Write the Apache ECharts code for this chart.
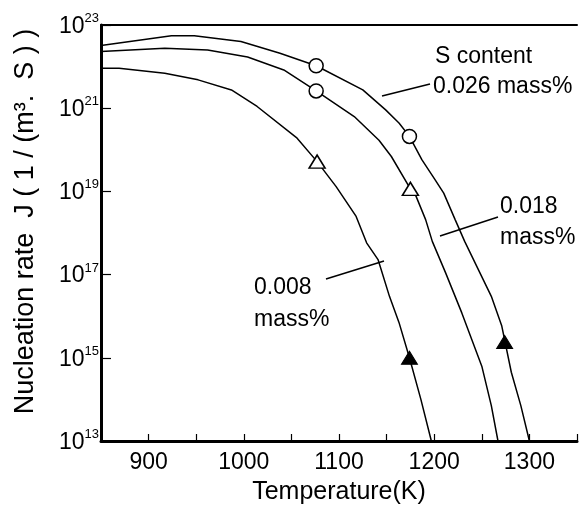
<!DOCTYPE html>
<html>
<head>
<meta charset="utf-8">
<script src="https://cdn.jsdelivr.net/npm/echarts@6/dist/echarts.min.js"></script>
<style>
  html, body { margin: 0; padding: 0; background: #fff; }
  #main { width: 580px; height: 510px; }
</style>
</head>
<body>
<div id="main"></div>
<script>
// 曲线数据：温度(K) 和 形核率 J
var t026 = [850, 924, 948, 997, 1038, 1076, 1125, 1149, 1163, 1174, 1187, 1201, 1210, 1222, 1232, 1260, 1271, 1281, 1291, 1300];
var j026 = [3.2e22, 5.5e22, 5.5e22, 4.0e22, 2.1e22, 1.05e22, 2.75e21, 9.1e20, 4.4e20, 2.1e20, 5.8e19, 1.9e19, 9.1e18, 2.1e18, 6.3e17, 3.0e16, 5.8e15, 4.5e14, 7.1e13, 1.0e13];

var t018 = [850, 917, 962, 1004, 1042, 1076, 1116, 1142, 1155, 1175, 1181, 1191, 1198, 1212, 1229, 1250, 1260, 1267];
var j018 = [2.3e22, 2.75e22, 2.5e22, 1.7e22, 8.3e21, 2.6e21, 6.3e20, 1.7e20, 6.9e19, 1.15e19, 7.6e18, 2.1e18, 6.3e17, 1.1e17, 1.2e16, 6.3e14, 7.1e13, 1.0e13];

var t008 = [850, 869, 917, 952, 987, 1014, 1056, 1077, 1097, 1118, 1129, 1141, 1153, 1163, 1174, 1186, 1197];
var j008 = [9.1e21, 9.1e21, 6.9e21, 4.8e21, 2.75e21, 1.1e21, 1.9e20, 5.2e19, 1.3e19, 2.5e18, 5.8e17, 2.3e17, 3.0e16, 7.1e15, 1.0e15, 1.0e14, 1.0e13];

// 实验点
var openCircle = [[1076, 1.05e22], [1174, 2.1e20], [1076, 2.6e21]];
var openTriangle = [[1077, 5.2e19], [1175, 1.15e19]];
var filledTriangle = [[1174, 1.0e15], [1274, 2.4e15]];

// 刻度
var xLabels = [900, 1000, 1100, 1200, 1300];
var yExponents = [13, 15, 17, 19, 21, 23];

var FONT = "'Liberation Sans', Arial, sans-serif";

function pairs(t, j) {
  return t.map(function (v, i) { return [v, j[i]]; });
}

var myChart = echarts.init(document.getElementById('main'));

var lineStyle = { color: '#000', width: 1.5 };

var option = {
  backgroundColor: '#fff',
  animation: false,
  grid: {
    left: 101,
    right: -2,
    top: 25,
    bottom: 68,
    containLabel: false
  },
  xAxis: [
    {
      type: 'value',
      min: 850,
      max: 1350,
      interval: 50,
      name: 'Temperature(K)',
      nameLocation: 'middle',
      nameGap: 39,
      nameTextStyle: { color: '#000', fontSize: 25, fontFamily: FONT },
      axisLine: { lineStyle: { color: '#000', width: 3 } },
      axisTick: { inside: true, length: 7, lineStyle: { color: '#000', width: 1.2 } },
      axisLabel: {
        color: '#000',
        fontSize: 23,
        fontFamily: FONT,
        margin: 10,
        formatter: function (v) {
          return xLabels.indexOf(v) >= 0 ? String(v) : '';
        }
      },
      splitLine: { show: false }
    },
    {
      // 上边框
      type: 'value',
      position: 'top',
      min: 850,
      max: 1350,
      axisLine: { lineStyle: { color: '#000', width: 2 } },
      axisTick: { show: false },
      axisLabel: { show: false },
      splitLine: { show: false }
    }
  ],
  yAxis: {
    type: 'log',
    logBase: 10,
    min: 1e13,
    max: 1e23,
    interval: 2,
    name: 'Nucleation rate  J ( 1 / (m\u00b3.  S ) )',
    nameLocation: 'middle',
    nameGap: 62,
    nameTextStyle: {
      color: '#000',
      fontSize: 27,
      fontFamily: FONT,
      padding: [0, 0, 0, 23]
    },
    axisLine: { lineStyle: { color: '#000', width: 3 } },
    axisTick: { inside: true, length: 10, lineStyle: { color: '#000', width: 1.2 } },
    axisLabel: {
      margin: 2,
      formatter: function (v) {
        var e = Math.round(Math.log10(v));
        if (yExponents.indexOf(e) < 0) return '';
        return '{b|10}{e|' + e + '}';
      },
      rich: {
        b: { fontSize: 23, fontFamily: FONT, color: '#000', lineHeight: 26, verticalAlign: 'bottom' },
        e: { fontSize: 13, fontFamily: FONT, color: '#000', lineHeight: 12, verticalAlign: 'top' }
      }
    },
    splitLine: { show: false },
    minorTick: { show: false }
  },
  series: [
    { name: '0.026', type: 'line', data: pairs(t026, j026), showSymbol: false, lineStyle: lineStyle, z: 2 },
    { name: '0.018', type: 'line', data: pairs(t018, j018), showSymbol: false, lineStyle: lineStyle, z: 2 },
    { name: '0.008', type: 'line', data: pairs(t008, j008), showSymbol: false, lineStyle: lineStyle, z: 2 },
    {
      type: 'scatter', data: openCircle, symbol: 'circle', symbolSize: 14, z: 3,
      itemStyle: { color: '#fff', borderColor: '#000', borderWidth: 1.5, opacity: 1 }
    },
    {
      type: 'scatter', data: openTriangle, symbol: 'triangle', symbolSize: [16, 13], z: 3,
      itemStyle: { color: '#fff', borderColor: '#000', borderWidth: 1.5, opacity: 1 }
    },
    {
      type: 'scatter', data: filledTriangle, symbol: 'triangle', symbolSize: [16, 13], z: 3,
      itemStyle: { color: '#000', borderColor: '#000', borderWidth: 1, opacity: 1 }
    }
  ],
  graphic: [
    { type: 'text', x: 435, y: 57, style: { text: 'S content', font: '23px ' + FONT, fill: '#000', verticalAlign: 'middle' } },
    { type: 'text', x: 433, y: 87, style: { text: '0.026 mass%', font: '23px ' + FONT, fill: '#000', verticalAlign: 'middle' } },
    { type: 'line', shape: { x1: 382, y1: 96, x2: 430, y2: 84 }, style: { stroke: '#000', lineWidth: 1.5 } },
    { type: 'text', x: 500, y: 207, style: { text: '0.018', font: '23px ' + FONT, fill: '#000', verticalAlign: 'middle' } },
    { type: 'text', x: 500, y: 238, style: { text: 'mass%', font: '23px ' + FONT, fill: '#000', verticalAlign: 'middle' } },
    { type: 'line', shape: { x1: 440, y1: 236, x2: 498, y2: 217 }, style: { stroke: '#000', lineWidth: 1.5 } },
    { type: 'text', x: 254, y: 288, style: { text: '0.008', font: '23px ' + FONT, fill: '#000', verticalAlign: 'middle' } },
    { type: 'text', x: 254, y: 320, style: { text: 'mass%', font: '23px ' + FONT, fill: '#000', verticalAlign: 'middle' } },
    { type: 'line', shape: { x1: 326, y1: 279, x2: 384, y2: 261 }, style: { stroke: '#000', lineWidth: 1.5 } }
  ]
};

myChart.setOption(option);
</script>
</body>
</html>
